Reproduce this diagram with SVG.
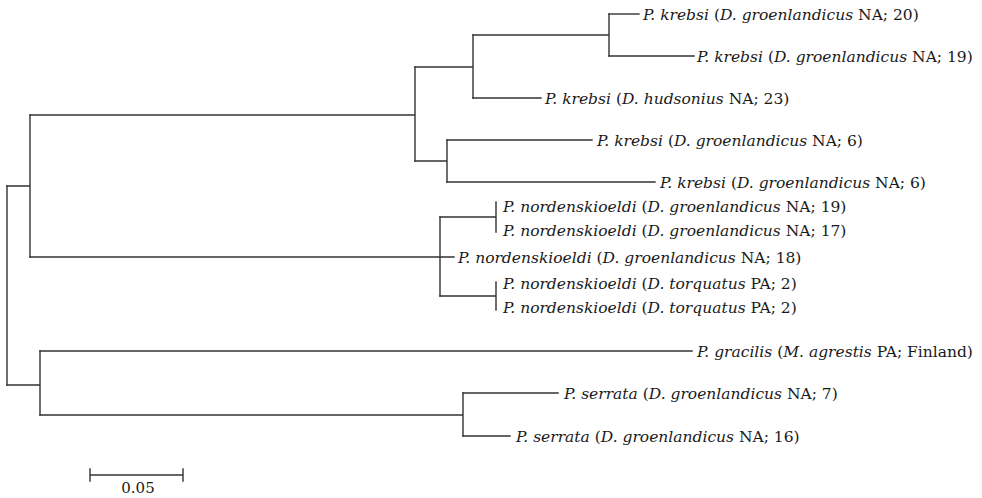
<svg xmlns="http://www.w3.org/2000/svg" width="982" height="498" viewBox="0 0 982 498">
<style>
  .br { fill: none; stroke: #333; stroke-width: 1.4; stroke-linecap: square; }
  .lbl { font-family: "DejaVu Serif", "Liberation Serif", serif; font-size: 15.5px; fill: #1a1a1a; }
  .i { font-style: italic; }
  .sc { font-family: "DejaVu Serif", "Liberation Serif", serif; font-size: 15px; fill: #1a1a1a; }
</style>
<rect width="982" height="498" fill="#fff"/>
<g id="connectors">
  <path class="br" d="M7,186 V385"/>
  <path class="br" d="M7,186 H30 M30,115 V257"/>
  <path class="br" d="M30,115 H415 M415,67 V161"/>
  <path class="br" d="M415,67 H473 M473,35 V98"/>
  <path class="br" d="M473,35 H609 M609,14 V56"/>
  <path class="br" d="M609,14 H639"/>
  <path class="br" d="M609,56 H694"/>
  <path class="br" d="M473,98 H541"/>
  <path class="br" d="M415,161 H447 M447,140 V182"/>
  <path class="br" d="M447,140 H592"/>
  <path class="br" d="M447,182 H655"/>
  <path class="br" d="M30,257 H454 M440,217 V296"/>
  <path class="br" d="M440,217 H496 M496,202 V232"/>
  <path class="br" d="M440,296 H496 M496,282 V310"/>
  <path class="br" d="M7,385 H40 M40,351 V415"/>
  <path class="br" d="M40,351 H692"/>
  <path class="br" d="M40,415 H463 M463,393 V436"/>
  <path class="br" d="M463,393 H558"/>
  <path class="br" d="M463,436 H510"/>
</g>
<g id="leaf-krebsi-20"><text class="lbl" x="643" y="20"><tspan class="i">P. krebsi</tspan> (<tspan class="i">D. groenlandicus</tspan> NA; 20)</text></g>
<g id="leaf-krebsi-19"><text class="lbl" x="697" y="62"><tspan class="i">P. krebsi</tspan> (<tspan class="i">D. groenlandicus</tspan> NA; 19)</text></g>
<g id="leaf-krebsi-23"><text class="lbl" x="545" y="104"><tspan class="i">P. krebsi</tspan> (<tspan class="i">D. hudsonius</tspan> NA; 23)</text></g>
<g id="leaf-krebsi-6a"><text class="lbl" x="597" y="146"><tspan class="i">P. krebsi</tspan> (<tspan class="i">D. groenlandicus</tspan> NA; 6)</text></g>
<g id="leaf-krebsi-6b"><text class="lbl" x="660" y="188"><tspan class="i">P. krebsi</tspan> (<tspan class="i">D. groenlandicus</tspan> NA; 6)</text></g>
<g id="leaf-nord-19"><text class="lbl" x="503" y="212"><tspan class="i">P. nordenskioeldi</tspan> (<tspan class="i">D. groenlandicus</tspan> NA; 19)</text></g>
<g id="leaf-nord-17"><text class="lbl" x="503" y="236"><tspan class="i">P. nordenskioeldi</tspan> (<tspan class="i">D. groenlandicus</tspan> NA; 17)</text></g>
<g id="leaf-nord-18"><text class="lbl" x="458" y="263"><tspan class="i">P. nordenskioeldi</tspan> (<tspan class="i">D. groenlandicus</tspan> NA; 18)</text></g>
<g id="leaf-nord-torq-a"><text class="lbl" x="503" y="289"><tspan class="i">P. nordenskioeldi</tspan> (<tspan class="i">D. torquatus</tspan> PA; 2)</text></g>
<g id="leaf-nord-torq-b"><text class="lbl" x="503" y="313"><tspan class="i">P. nordenskioeldi</tspan> (<tspan class="i">D. torquatus</tspan> PA; 2)</text></g>
<g id="leaf-gracilis"><text class="lbl" x="697" y="357"><tspan class="i">P. gracilis</tspan> (<tspan class="i">M. agrestis</tspan> PA; Finland)</text></g>
<g id="leaf-serrata-7"><text class="lbl" x="564" y="399"><tspan class="i">P. serrata</tspan> (<tspan class="i">D. groenlandicus</tspan> NA; 7)</text></g>
<g id="leaf-serrata-16"><text class="lbl" x="516" y="442"><tspan class="i">P. serrata</tspan> (<tspan class="i">D. groenlandicus</tspan> NA; 16)</text></g>
<g id="scale-bar">
  <path class="br" d="M90,475 H183 M90,469 V481 M183,469 V481"/>
  <text class="sc" x="138" y="493" text-anchor="middle">0.05</text>
</g>
</svg>
